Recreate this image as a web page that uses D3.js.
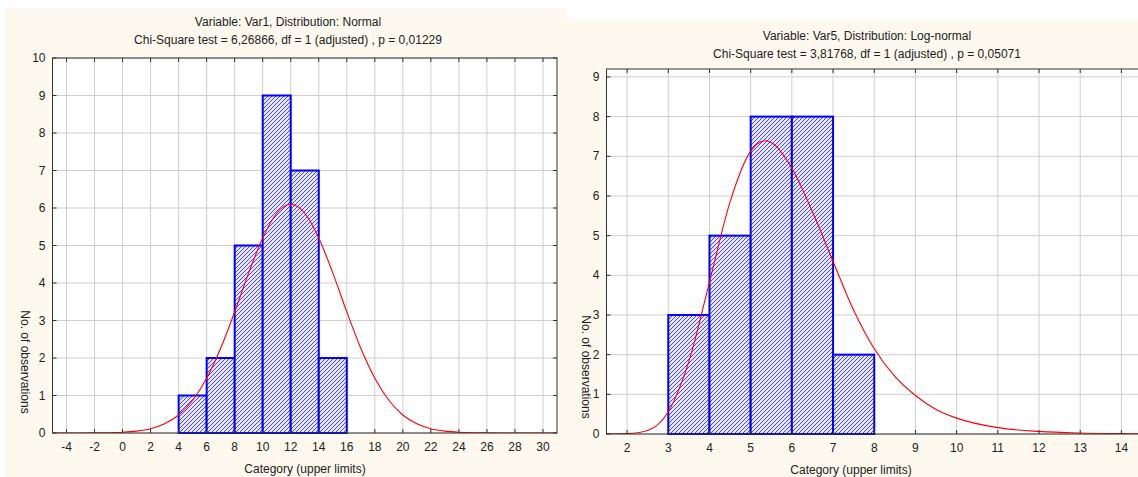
<!DOCTYPE html>
<html>
<head>
<meta charset="utf-8">
<script src="https://cdn.jsdelivr.net/npm/d3@7"></script>
<style>
  html, body { margin: 0; padding: 0; background: #ffffff; }
  svg { display: block; font-family: "Liberation Sans", Arial, sans-serif; }
</style>
</head>
<body>
<svg width="1138" height="477"></svg>
<script>
// ---- data ----
const leftTitles = ["Variable: Var1, Distribution: Normal",
                    "Chi-Square test = 6,26866, df = 1 (adjusted) , p = 0,01229"];
const leftBinStarts = [4, 6, 8, 10, 12, 14];
const leftCounts = [1, 2, 5, 9, 7, 2];
const leftBinWidth = 2;
const leftXTicks = [-4, -2, 0, 2, 4, 6, 8, 10, 12, 14, 16, 18, 20, 22, 24, 26, 28, 30];
const leftYTicks = [0, 1, 2, 3, 4, 5, 6, 7, 8, 9, 10];
// fitted normal curve, sampled
const leftCurveX = [-5, -4, -3, -2, -1, 0, 1, 2, 3, 4, 5, 6, 7, 8, 9, 10, 11, 12,
                    13, 14, 15, 16, 17, 18, 19, 20, 21, 22, 23, 24, 25, 26, 27, 28, 29, 30, 31];
const leftCurveY = [0, 0.0002, 0.0008, 0.0026, 0.0075, 0.02, 0.05, 0.115, 0.245, 0.481, 0.874,
                    1.46, 2.26, 3.23, 4.27, 5.2, 5.86, 6.1, 5.86, 5.2, 4.27, 3.23, 2.26, 1.46,
                    0.874, 0.481, 0.245, 0.115, 0.05, 0.02, 0.0075, 0.0026, 0.0008, 0.0002, 0, 0, 0];

const rightTitles = ["Variable: Var5, Distribution: Log-normal",
                     "Chi-Square test = 3,81768, df = 1 (adjusted) , p = 0,05071"];
const rightBinStarts = [3, 4, 5, 6, 7];
const rightCounts = [3, 5, 8, 8, 2];
const rightBinWidth = 1;
const rightXTicks = [2, 3, 4, 5, 6, 7, 8, 9, 10, 11, 12, 13, 14];
const rightYTicks = [0, 1, 2, 3, 4, 5, 6, 7, 8, 9];
// fitted log-normal curve, sampled
const rightCurveX = [1.5, 2, 2.5, 3, 3.5, 4, 4.5, 5, 5.35, 5.5, 6, 6.5, 7, 7.5, 8, 8.5, 9, 9.5,
                     10, 11, 12, 13, 14, 14.5];
const rightCurveY = [0, 0.01, 0.09, 0.56, 1.83, 3.83, 5.85, 7.13, 7.39, 7.35, 6.7, 5.6, 4.35,
                     3.12, 2.15, 1.45, 0.97, 0.62, 0.4, 0.16, 0.065, 0.025, 0.01, 0.006];

const xLabel = "Category (upper limits)";
const yLabel = "No. of observations";

const svg = d3.select("svg");

// hatch pattern for the bars, drawn pixel by pixel so it stays crisp
svg.append("defs").append("pattern")
  .attr("id", "hatch")
  .attr("patternUnits", "userSpaceOnUse")
  .attr("width", 4).attr("height", 4)
  .call(p => {
    p.append("rect").attr("width", 4).attr("height", 4).attr("fill", "#e6e6ff");
    p.selectAll("rect.px").data([0, 1, 2, 3]).join("rect")
      .attr("class", "px")
      .attr("x", d => d).attr("y", d => 3 - d)
      .attr("width", 1).attr("height", 1)
      .attr("fill", "#4848ff")
      .attr("shape-rendering", "crispEdges");
  });

function drawPanel(cfg, idx) {
  // panel background
  svg.append("rect")
    .attr("x", cfg.bg[0]).attr("y", cfg.bg[1])
    .attr("width", cfg.bg[2]).attr("height", cfg.bg[3])
    .attr("fill", "#fdf9ee");

  const x = d3.scaleLinear().domain(cfg.xDomain).range([cfg.left, cfg.right]);
  const y = d3.scaleLinear().domain(cfg.yDomain).range([cfg.bottom, cfg.top]);

  const clipId = "clip" + idx;
  svg.append("clipPath").attr("id", clipId)
    .append("rect")
    .attr("x", cfg.left).attr("y", cfg.top)
    .attr("width", cfg.right - cfg.left).attr("height", cfg.bottom - cfg.top);

  svg.append("rect")
    .attr("x", cfg.left).attr("y", cfg.top)
    .attr("width", cfg.right - cfg.left).attr("height", cfg.bottom - cfg.top)
    .attr("fill", "#ffffff");

  const g = svg.append("g");

  // grid
  g.append("g").selectAll("line").data(cfg.xTicks).join("line")
    .attr("x1", d => x(d)).attr("x2", d => x(d))
    .attr("y1", cfg.top).attr("y2", cfg.bottom)
    .attr("stroke", "#cfcfcf").attr("stroke-width", 1);
  g.append("g").selectAll("line").data(cfg.yTicks).join("line")
    .attr("x1", cfg.left).attr("x2", cfg.right)
    .attr("y1", d => y(d)).attr("y2", d => y(d))
    .attr("stroke", "#cfcfcf").attr("stroke-width", 1);

  // bars
  g.append("g").selectAll("rect").data(cfg.bins.map((b, i) => [b, cfg.counts[i]])).join("rect")
    .attr("x", d => x(d[0]))
    .attr("y", d => y(d[1]))
    .attr("width", d => x(d[0] + cfg.binWidth) - x(d[0]))
    .attr("height", d => y(0) - y(d[1]))
    .attr("fill", "url(#hatch)")
    .attr("stroke", "#0000ff")
    .attr("stroke-width", 2);

  // fitted curve
  const line = d3.line()
    .x(d => x(d[0])).y(d => y(d[1]))
    .curve(d3.curveMonotoneX);
  g.append("path")
    .datum(cfg.curveX.map((v, i) => [v, cfg.curveY[i]]))
    .attr("clip-path", `url(#${clipId})`)
    .attr("d", line)
    .attr("fill", "none")
    .attr("stroke", "#ff0000")
    .attr("stroke-width", 1.1);

  // frame
  g.append("rect")
    .attr("x", cfg.left).attr("y", cfg.top)
    .attr("width", cfg.right - cfg.left).attr("height", cfg.bottom - cfg.top)
    .attr("fill", "none").attr("stroke", "#333333").attr("stroke-width", 1);

  // inward ticks
  const tickLen = 4;
  g.append("g").selectAll("line").data(cfg.xTicks).join("line")
    .attr("x1", d => x(d)).attr("x2", d => x(d))
    .attr("y1", cfg.top).attr("y2", cfg.top + tickLen)
    .attr("stroke", "#333333");
  g.append("g").selectAll("line").data(cfg.xTicks).join("line")
    .attr("x1", d => x(d)).attr("x2", d => x(d))
    .attr("y1", cfg.bottom).attr("y2", cfg.bottom - tickLen)
    .attr("stroke", "#333333");
  g.append("g").selectAll("line").data(cfg.yTicks).join("line")
    .attr("x1", cfg.left).attr("x2", cfg.left + tickLen)
    .attr("y1", d => y(d)).attr("y2", d => y(d))
    .attr("stroke", "#333333");
  g.append("g").selectAll("line").data(cfg.yTicks).join("line")
    .attr("x1", cfg.right).attr("x2", cfg.right - tickLen)
    .attr("y1", d => y(d)).attr("y2", d => y(d))
    .attr("stroke", "#333333");

  // tick labels
  g.append("g").selectAll("text").data(cfg.xTicks).join("text")
    .attr("x", d => x(d)).attr("y", cfg.bottom + 18)
    .attr("text-anchor", "middle")
    .attr("font-size", 12).attr("fill", "#222")
    .text(d => d);
  g.append("g").selectAll("text").data(cfg.yTicks).join("text")
    .attr("x", cfg.left - 7).attr("y", d => y(d) + 4)
    .attr("text-anchor", "end")
    .attr("font-size", 12).attr("fill", "#222")
    .text(d => d);

  // titles
  svg.append("g").selectAll("text").data(cfg.titles).join("text")
    .attr("x", cfg.titleX).attr("y", (d, i) => cfg.titleY + i * 18)
    .attr("text-anchor", "middle")
    .attr("font-size", 12).attr("fill", "#222")
    .text(d => d);

  svg.append("text")
    .attr("x", cfg.xLabelX).attr("y", cfg.bottom + 40)
    .attr("text-anchor", "middle")
    .attr("font-size", 12).attr("fill", "#222")
    .text(xLabel);

  svg.append("text")
    .attr("transform", `translate(${cfg.yLabelX},${cfg.yLabelY}) rotate(90)`)
    .attr("text-anchor", "middle")
    .attr("font-size", 12).attr("fill", "#222")
    .text(yLabel);
}

drawPanel({
  bg: [5, 8, 561, 469],
  left: 52.5, right: 557, top: 58, bottom: 433,
  xDomain: [-5, 31], yDomain: [0, 10],
  xTicks: leftXTicks, yTicks: leftYTicks,
  bins: leftBinStarts, counts: leftCounts, binWidth: leftBinWidth,
  curveX: leftCurveX, curveY: leftCurveY,
  titles: leftTitles, titleX: 288, titleY: 26,
  xLabelX: 305, yLabelX: 21, yLabelY: 362
}, 0);

drawPanel({
  bg: [566, 19, 572, 458],
  left: 606.5, right: 1142, top: 69, bottom: 434,
  xDomain: [1.5, 14.5], yDomain: [0, 9.2],
  xTicks: rightXTicks, yTicks: rightYTicks,
  bins: rightBinStarts, counts: rightCounts, binWidth: rightBinWidth,
  curveX: rightCurveX, curveY: rightCurveY,
  titles: rightTitles, titleX: 867, titleY: 40,
  xLabelX: 851, yLabelX: 582, yLabelY: 367
}, 1);
</script>
</body>
</html>
